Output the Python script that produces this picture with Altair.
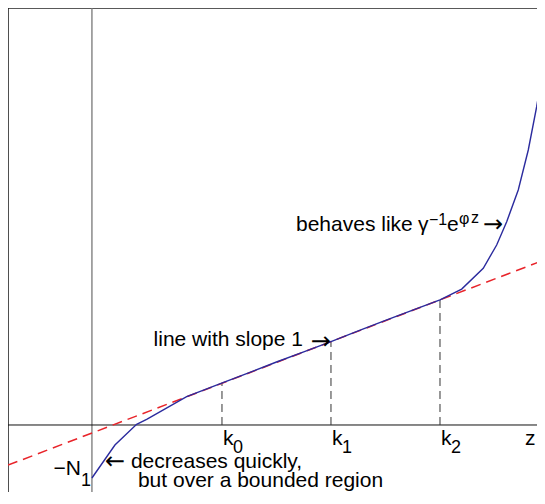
import altair as alt
import pandas as pd

# ---- data (z units: k spacing = 1; y units: slope-1 line) ----
blue_z = [-0.193, 0.018, 0.217, 0.309, 0.676, 1.009, 1.25, 1.5, 1.75, 2.0, 2.25,
          2.5, 2.75, 3.0, 3.199, 3.397, 3.52, 3.612, 3.718, 3.81, 3.887, 3.963]
blue_y = [-1.271, -0.48, 0.017, 0.137, 0.68, 1.014, 1.255, 1.51, 1.755, 2.0, 2.255,
          2.51, 2.755, 3.0, 3.26, 3.758, 4.317, 4.875, 5.635, 6.595, 7.633, 8.832]
red_z = [-0.963, 3.963]
red_y = [-0.963, 3.963]
k_vals = [1.0, 2.0, 3.0]
k_subs = ["0", "1", "2"]
n1_z = -0.193
x_dom = [-0.963, 3.890]
y_dom = [-1.607, 10.0]
FONT = "Liberation Sans"
AFONT = "DejaVu Sans"

xs = alt.Scale(domain=x_dom, nice=False, zero=False)
ys = alt.Scale(domain=y_dom, nice=False, zero=False)


def X(f="z"):
    return alt.X(f"{f}:Q", scale=xs, axis=None)


def Y(f="y"):
    return alt.Y(f"{f}:Q", scale=ys, axis=None)


blue = pd.DataFrame({"z": blue_z, "y": blue_y})
red = pd.DataFrame({"z": red_z, "y": red_y})
kdf = pd.DataFrame({"z": k_vals, "y0": [0.0] * 3, "y": k_vals, "sub": k_subs})

frame_top = alt.Chart(pd.DataFrame({"z": [x_dom[0]], "z2": [x_dom[1]], "y": [y_dom[1]]})).mark_rule(
    color="#222", strokeWidth=1.6).encode(x=X(), x2="z2:Q", y=Y())
frame_left = alt.Chart(pd.DataFrame({"z": [x_dom[0]], "y": [y_dom[0]], "y2": [y_dom[1]]})).mark_rule(
    color="#222", strokeWidth=1.6).encode(x=X(), y=Y(), y2="y2:Q")
vline = alt.Chart(pd.DataFrame({"z": [n1_z], "y": [y_dom[0]], "y2": [y_dom[1]]})).mark_rule(
    color="#777", strokeWidth=1.3).encode(x=X(), y=Y(), y2="y2:Q")
haxis = alt.Chart(pd.DataFrame({"z": [x_dom[0]], "z2": [x_dom[1]], "y": [0.0]})).mark_rule(
    color="#111", strokeWidth=1).encode(x=X(), x2="z2:Q", y=Y())

kdash = alt.Chart(kdf).mark_rule(color="#333", strokeWidth=1, strokeDash=[8, 5]).encode(
    x=X(), y=Y("y0"), y2="y:Q")

red_line = alt.Chart(red).mark_line(color="#e8242a", strokeWidth=1.5, strokeDash=[10, 6], clip=True).encode(
    x=X(), y=Y())
blue_line = alt.Chart(blue).mark_line(color="#2b2b9e", strokeWidth=1.4, clip=True).encode(
    x=X(), y=Y(), order=alt.Order("z:Q"))

# k labels
k_text = alt.Chart(kdf).mark_text(font=FONT, fontSize=21, align="left", baseline="alphabetic",
                                  dx=1, dy=20, text="k").encode(x=X(), y=Y("y0"))
k_sub = alt.Chart(kdf).mark_text(font=FONT, fontSize=18, align="left", baseline="alphabetic",
                                 dx=11, dy=28).encode(x=X(), y=Y("y0"), text="sub:N")
z_text = alt.Chart(pd.DataFrame({"z": [3.78], "y": [0.0]})).mark_text(
    font=FONT, fontSize=21, align="left", baseline="alphabetic", dy=20, text="z").encode(x=X(), y=Y())


# annotations anchored to data points, offsets in pixels
def label(txt, z, y, dx, dy, size=21, align="left", font=FONT):
    return alt.Chart(pd.DataFrame({"z": [z], "y": [y]})).mark_text(
        font=font, fontSize=size, align=align, baseline="alphabetic", dx=dx, dy=dy, text=txt,
        color="black").encode(x=X(), y=Y())


az, ay = blue_z[0], blue_y[0]
ann = [
    label("\u2212N", az, ay, -11, -3, align="right"),
    label("1", az, ay, -11, 8, size=18),
    label("\u2190", az, ay, 13, -9, size=24, font=AFONT),
    label("decreases quickly,", az, ay, 39, -10),
    label("but over a bounded region", az, ay, 46, 9),
    label("line with slope 1", 2.0, 2.0, -28, 4, align="right"),
    label("\u2192", 2.0, 2.0, 0, 7, size=24, align="right", font=AFONT),
]
bz, by = 3.578, 4.6
ann += [
    label("behaves like", bz, by, -207, -2),
    label("\u03b3", bz, by, -85, -2),
    label("\u22121", bz, by, -74, -8, size=16),
    label("e", bz, by, -56, -2),
    label("\u03c6", bz, by, -44, -9, size=16),
    label("z", bz, by, -32, -10, size=16),
    label("\u2192", bz, by, 0, -1, size=24, align="right", font=AFONT),
]

chart = alt.layer(frame_top, frame_left, vline, haxis, kdash, red_line, blue_line,
                  k_text, k_sub, z_text, *ann).properties(
    width=529, height=484, autosize=alt.AutoSizeParams(type="none"), padding=0
).configure_view(stroke=None)

chart.save("out.html", embed_options={"renderer": "svg", "actions": False})
